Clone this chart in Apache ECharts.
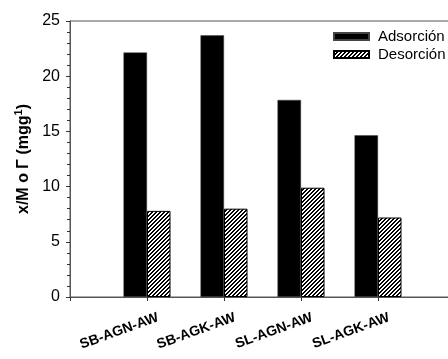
<!DOCTYPE html>
<html>
<head>
<meta charset="utf-8">
<script src="https://cdn.jsdelivr.net/npm/echarts@6/dist/echarts.min.js"></script>
<style>
  html, body { margin: 0; padding: 0; background: #fff; }
  #chart { width: 448px; height: 359px; }
</style>
</head>
<body>
<div id="chart"></div>
<script>
// 数据
const categories = ["", "SB-AGN-AW", "SB-AGK-AW", "SL-AGN-AW", "SL-AGK-AW", ""];
const adsorcion = ["-", 22.15, 23.7, 17.85, 14.65, "-"];
const desorcion = ["-", 7.8, 8.0, 9.9, 7.2, "-"];
const seriesNames = ["Adsorción", "Desorción"];
const yTicks = [0, 25, 5];

// hatch pattern "////"
function makeHatch() {
  let c = document.createElement("canvas");
  c.width = 4;
  c.height = 4;
  let ctx = c.getContext("2d");
  let img = ctx.createImageData(4, 4);
  for (let y = 0; y < 4; y++) {
    for (let x = 0; x < 4; x++) {
      let i = (y * 4 + x) * 4;
      let dark = (x + y) % 4 === 3 || (x + y) % 4 === 0;
      let v = dark ? 0 : 255;
      img.data[i] = v;
      img.data[i + 1] = v;
      img.data[i + 2] = v;
      img.data[i + 3] = 255;
    }
  }
  ctx.putImageData(img, 0, 0);
  return c;
}

var myChart = echarts.init(document.getElementById("chart"));
let font = "Liberation Sans";
let option = {
  animation: false,
  textStyle: { fontFamily: font },
  grid: [
    {
      left: 70,
      top: 21,
      bottom: 62,
      width: 385, // 右边超出画面，参考图右侧被裁掉
      outerBoundsMode: "none",
      containLabel: false,
      show: true,
      borderColor: "#555",
      borderWidth: 1
    },
    {
      // 只放 x 轴标签，向右错开一点
      left: 81,
      top: 21,
      bottom: 62,
      width: 385,
      outerBoundsMode: "none",
      containLabel: false,
      show: false
    }
  ],
  legend: {
    orient: "vertical",
    left: 333,
    top: 29,
    padding: 0,
    icon: "rect",
    itemWidth: 35,
    itemHeight: 7,
    itemGap: 3,
    selectedMode: false,
    textStyle: {
      fontFamily: font,
      fontSize: 15,
      color: "#000",
      padding: [0, 0, 0, 4]
    },
    data: seriesNames
  },
  xAxis: [
    {
      type: "category",
      gridIndex: 0,
      boundaryGap: false,
      data: categories,
      axisLine: { lineStyle: { color: "#555", width: 1 } },
      axisTick: { show: true, length: 4, interval: 0, lineStyle: { color: "#333" } },
      axisLabel: { show: false },
      splitLine: { show: false }
    },
    {
      type: "category",
      gridIndex: 1,
      boundaryGap: false,
      data: categories,
      axisLine: { show: false },
      axisTick: { show: false },
      axisLabel: {
        interval: 0,
        rotate: 20,
        margin: 20,
        fontFamily: font,
        fontSize: 14,
        fontWeight: "bold",
        color: "#000"
      },
      splitLine: { show: false }
    }
  ],
  yAxis: [
    {
      type: "value",
      gridIndex: 0,
      min: yTicks[0],
      max: yTicks[1],
      interval: yTicks[2],
      name: "x/M o Γ (mgg{sup|1})",
      nameLocation: "middle",
      nameRotate: 90,
      nameGap: 35,
      nameTextStyle: {
        fontFamily: font,
        fontSize: 16,
        fontWeight: "bold",
        color: "#000",
        rich: {
          sup: {
            fontFamily: font,
            fontSize: 11,
            fontWeight: "bold",
            color: "#000",
            verticalAlign: "top",
            padding: [0, 0, 8, 0]
          }
        }
      },
      axisLine: { show: true, lineStyle: { color: "#555", width: 1 } },
      axisTick: { show: true, inside: false, length: 4, lineStyle: { color: "#333" } },
      minorTick: { show: true, splitNumber: 5, length: 3, lineStyle: { color: "#333" } },
      axisLabel: {
        margin: 10,
        fontFamily: font,
        fontSize: 16,
        color: "#000"
      },
      splitLine: { show: false }
    },
    {
      type: "value",
      gridIndex: 1,
      show: false
    }
  ],
  series: [
    {
      name: seriesNames[0],
      type: "bar",
      data: adsorcion,
      barWidth: 23.5,
      barGap: "0%",
      itemStyle: { color: "#000", borderColor: "#444", borderWidth: 0.5 }
    },
    {
      name: seriesNames[1],
      type: "bar",
      data: desorcion,
      barWidth: 23.5,
      barGap: "0%",
      itemStyle: {
        color: { image: makeHatch(), repeat: "repeat" },
        borderColor: "#000",
        borderWidth: 1
      }
    }
  ]
};
myChart.setOption(option);
</script>
</body>
</html>
